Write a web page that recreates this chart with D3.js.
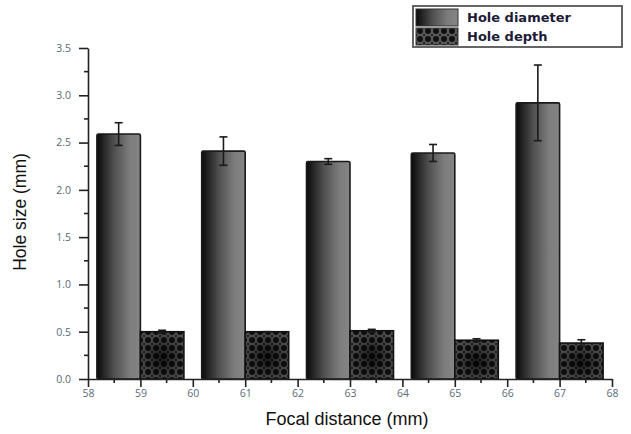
<!DOCTYPE html>
<html>
<head>
<meta charset="utf-8">
<script src="https://cdn.jsdelivr.net/npm/d3@7/dist/d3.min.js"></script>
<style>
  html, body { margin: 0; padding: 0; background: #fff; }
  svg { display: block; }
</style>
</head>
<body>
<svg id="chart" width="631" height="434"></svg>
<script>
// Focal distance groups (bar pairs centred on these positions)
const focalDistances = [59, 61, 63, 65, 67];
// Hole diameter (mm) and its standard deviation
const holeDiameter = [2.59, 2.41, 2.30, 2.39, 2.92];
const holeDiameterErr = [0.12, 0.15, 0.03, 0.09, 0.40];
// Hole depth (mm) and its standard deviation
const holeDepth = [0.50, 0.50, 0.51, 0.41, 0.38];
const holeDepthErr = [0.015, 0.0, 0.015, 0.015, 0.035];
// Axis ticks
const xTicks = [58, 59, 60, 61, 62, 63, 64, 65, 66, 67, 68];
const yTicks = [0.0, 0.5, 1.0, 1.5, 2.0, 2.5, 3.0, 3.5];
const seriesNames = ["Hole diameter", "Hole depth"];

const svg = d3.select("#chart");
const x = d3.scaleLinear().domain([58, 68]).range([88, 612]);
const y = d3.scaleLinear().domain([0, 3.5]).range([379, 48]);
const barW = 0.83;

// ---- paint definitions ----
const defs = svg.append("defs");
const grad = defs.append("linearGradient").attr("id", "diamGrad")
  .attr("x1", "0%").attr("x2", "100%").attr("y1", "0%").attr("y2", "0%");
grad.append("stop").attr("offset", "0%").attr("stop-color", "#0a0a0a");
grad.append("stop").attr("offset", "40%").attr("stop-color", "#505050");
grad.append("stop").attr("offset", "75%").attr("stop-color", "#7c7c7c");
grad.append("stop").attr("offset", "100%").attr("stop-color", "#858585");

const pat = defs.append("pattern").attr("id", "dots")
  .attr("patternUnits", "userSpaceOnUse").attr("width", 8).attr("height", 8);
pat.append("rect").attr("width", 8).attr("height", 8).attr("fill", "#5a5a5a");
pat.append("circle").attr("cx", 4).attr("cy", 4).attr("r", 3).attr("fill", "#111");
pat.append("circle").attr("cx", 0).attr("cy", 0).attr("r", 1.2).attr("fill", "#222");
pat.append("circle").attr("cx", 8).attr("cy", 0).attr("r", 1.2).attr("fill", "#222");
pat.append("circle").attr("cx", 0).attr("cy", 8).attr("r", 1.2).attr("fill", "#222");
pat.append("circle").attr("cx", 8).attr("cy", 8).attr("r", 1.2).attr("fill", "#222");

const rad = defs.append("radialGradient").attr("id", "depthShade")
  .attr("cx", "50%").attr("cy", "55%").attr("r", "60%");
rad.append("stop").attr("offset", "0%").attr("stop-color", "#000").attr("stop-opacity", 0.75);
rad.append("stop").attr("offset", "60%").attr("stop-color", "#000").attr("stop-opacity", 0.3);
rad.append("stop").attr("offset", "100%").attr("stop-color", "#000").attr("stop-opacity", 0.1);

// ---- bars ----
const rows = focalDistances.map((f, i) => ({
  f, d: holeDiameter[i], de: holeDiameterErr[i], h: holeDepth[i], he: holeDepthErr[i]
}));

const g = svg.append("g");
// diameter bars (left of the group centre)
g.selectAll("rect.diam").data(rows).join("rect")
  .attr("class", "diam")
  .attr("x", r => x(r.f - barW))
  .attr("width", r => x(r.f) - x(r.f - barW))
  .attr("y", r => y(r.d))
  .attr("height", r => y(0) - y(r.d))
  .attr("rx", 1.5)
  .attr("fill", "url(#diamGrad)")
  .attr("stroke", "#1a1a1a").attr("stroke-width", 1.6);

// depth bars (right of the group centre)
g.selectAll("rect.depth").data(rows).join("rect")
  .attr("class", "depth")
  .attr("x", r => x(r.f))
  .attr("width", r => x(r.f + barW) - x(r.f))
  .attr("y", r => y(r.h))
  .attr("height", r => y(0) - y(r.h))
  .attr("fill", "url(#dots)");
g.selectAll("rect.depthShade").data(rows).join("rect")
  .attr("class", "depthShade")
  .attr("x", r => x(r.f))
  .attr("width", r => x(r.f + barW) - x(r.f))
  .attr("y", r => y(r.h))
  .attr("height", r => y(0) - y(r.h))
  .attr("fill", "url(#depthShade)")
  .attr("stroke", "#111").attr("stroke-width", 1.6);

// error bars
function errorBars(cls, cx, val, err) {
  const eg = g.selectAll("g." + cls).data(rows).join("g").attr("class", cls)
    .attr("stroke", "#1a1a1a").attr("stroke-width", 1.6);
  eg.append("line")
    .attr("x1", r => x(cx(r))).attr("x2", r => x(cx(r)))
    .attr("y1", r => y(val(r) + err(r))).attr("y2", r => y(val(r) - err(r)));
  eg.append("line")
    .attr("x1", r => x(cx(r)) - 4).attr("x2", r => x(cx(r)) + 4)
    .attr("y1", r => y(val(r) + err(r))).attr("y2", r => y(val(r) + err(r)));
  eg.append("line")
    .attr("x1", r => x(cx(r)) - 4).attr("x2", r => x(cx(r)) + 4)
    .attr("y1", r => y(val(r) - err(r))).attr("y2", r => y(val(r) - err(r)));
}
errorBars("errD", r => r.f - barW / 2, r => r.d, r => r.de);
errorBars("errH", r => r.f + barW / 2, r => r.h, r => r.he);

// ---- axes ----
const tickFont = "'Open Sans', 'DejaVu Sans', sans-serif";
const tickColor = "#5a6a7c";

// minor ticks
const xMinor = d3.range(58.5, 68, 1);
const yMinor = d3.range(0.25, 3.5, 0.5);
const axisG = svg.append("g").attr("stroke", "#222").attr("stroke-width", 1.6);
axisG.selectAll("line.xmin").data(xMinor).join("line")
  .attr("x1", d => x(d)).attr("x2", d => x(d)).attr("y1", y(0)).attr("y2", y(0) + 4);
axisG.selectAll("line.ymin").data(yMinor).join("line")
  .attr("x1", x(58) - 4).attr("x2", x(58)).attr("y1", d => y(d)).attr("y2", d => y(d));

const xAxis = d3.axisBottom(x).tickValues(xTicks).tickFormat(d3.format("d"))
  .tickSize(8).tickPadding(3).tickSizeOuter(0);
const yAxis = d3.axisLeft(y).tickValues(yTicks).tickFormat(d3.format(".1f"))
  .tickSize(9).tickPadding(8).tickSizeOuter(0);

const gx = svg.append("g").attr("transform", `translate(0,${y(0)})`).call(xAxis);
const gy = svg.append("g").attr("transform", `translate(${x(58)},0)`).call(yAxis);
[gx, gy].forEach(a => {
  a.selectAll("path.domain").attr("stroke", "#222").attr("stroke-width", 1.6);
  a.selectAll(".tick line").attr("stroke", "#222").attr("stroke-width", 1.6);
  a.selectAll(".tick text").attr("fill", tickColor)
    .style("font-family", tickFont).style("font-size", "10.5px");
});

// axis titles
svg.append("text")
  .attr("x", 347).attr("y", 425).attr("text-anchor", "middle")
  .style("font-family", "'Liberation Sans', Arial, sans-serif").style("font-size", "18px")
  .attr("fill", "#111").text("Focal distance (mm)");
svg.append("text")
  .attr("transform", "translate(26,212) rotate(-90)").attr("text-anchor", "middle")
  .style("font-family", "'Liberation Sans', Arial, sans-serif").style("font-size", "17.5px")
  .attr("fill", "#111").text("Hole size (mm)");

// ---- legend ----
const lg = svg.append("g");
lg.append("rect").attr("x", 413).attr("y", 6).attr("width", 209).attr("height", 41)
  .attr("fill", "#fff").attr("stroke", "#555").attr("stroke-width", 1.8);
const fills = ["url(#diamGrad)", "url(#dots)"];
const items = lg.selectAll("g.item").data(seriesNames).join("g").attr("class", "item")
  .attr("transform", (d, i) => `translate(0,${i * 19})`);
items.append("rect").attr("x", 416).attr("y", 9).attr("width", 42).attr("height", 17)
  .attr("fill", (d, i) => fills[i]).attr("stroke", "#333").attr("stroke-width", 1);
items.append("text").attr("x", 467).attr("y", 22)
  .style("font-family", "'DejaVu Sans', Verdana, sans-serif").style("font-weight", "bold")
  .style("font-size", "13px").attr("fill", "#1c1c38").text(d => d);
</script>
</body>
</html>
